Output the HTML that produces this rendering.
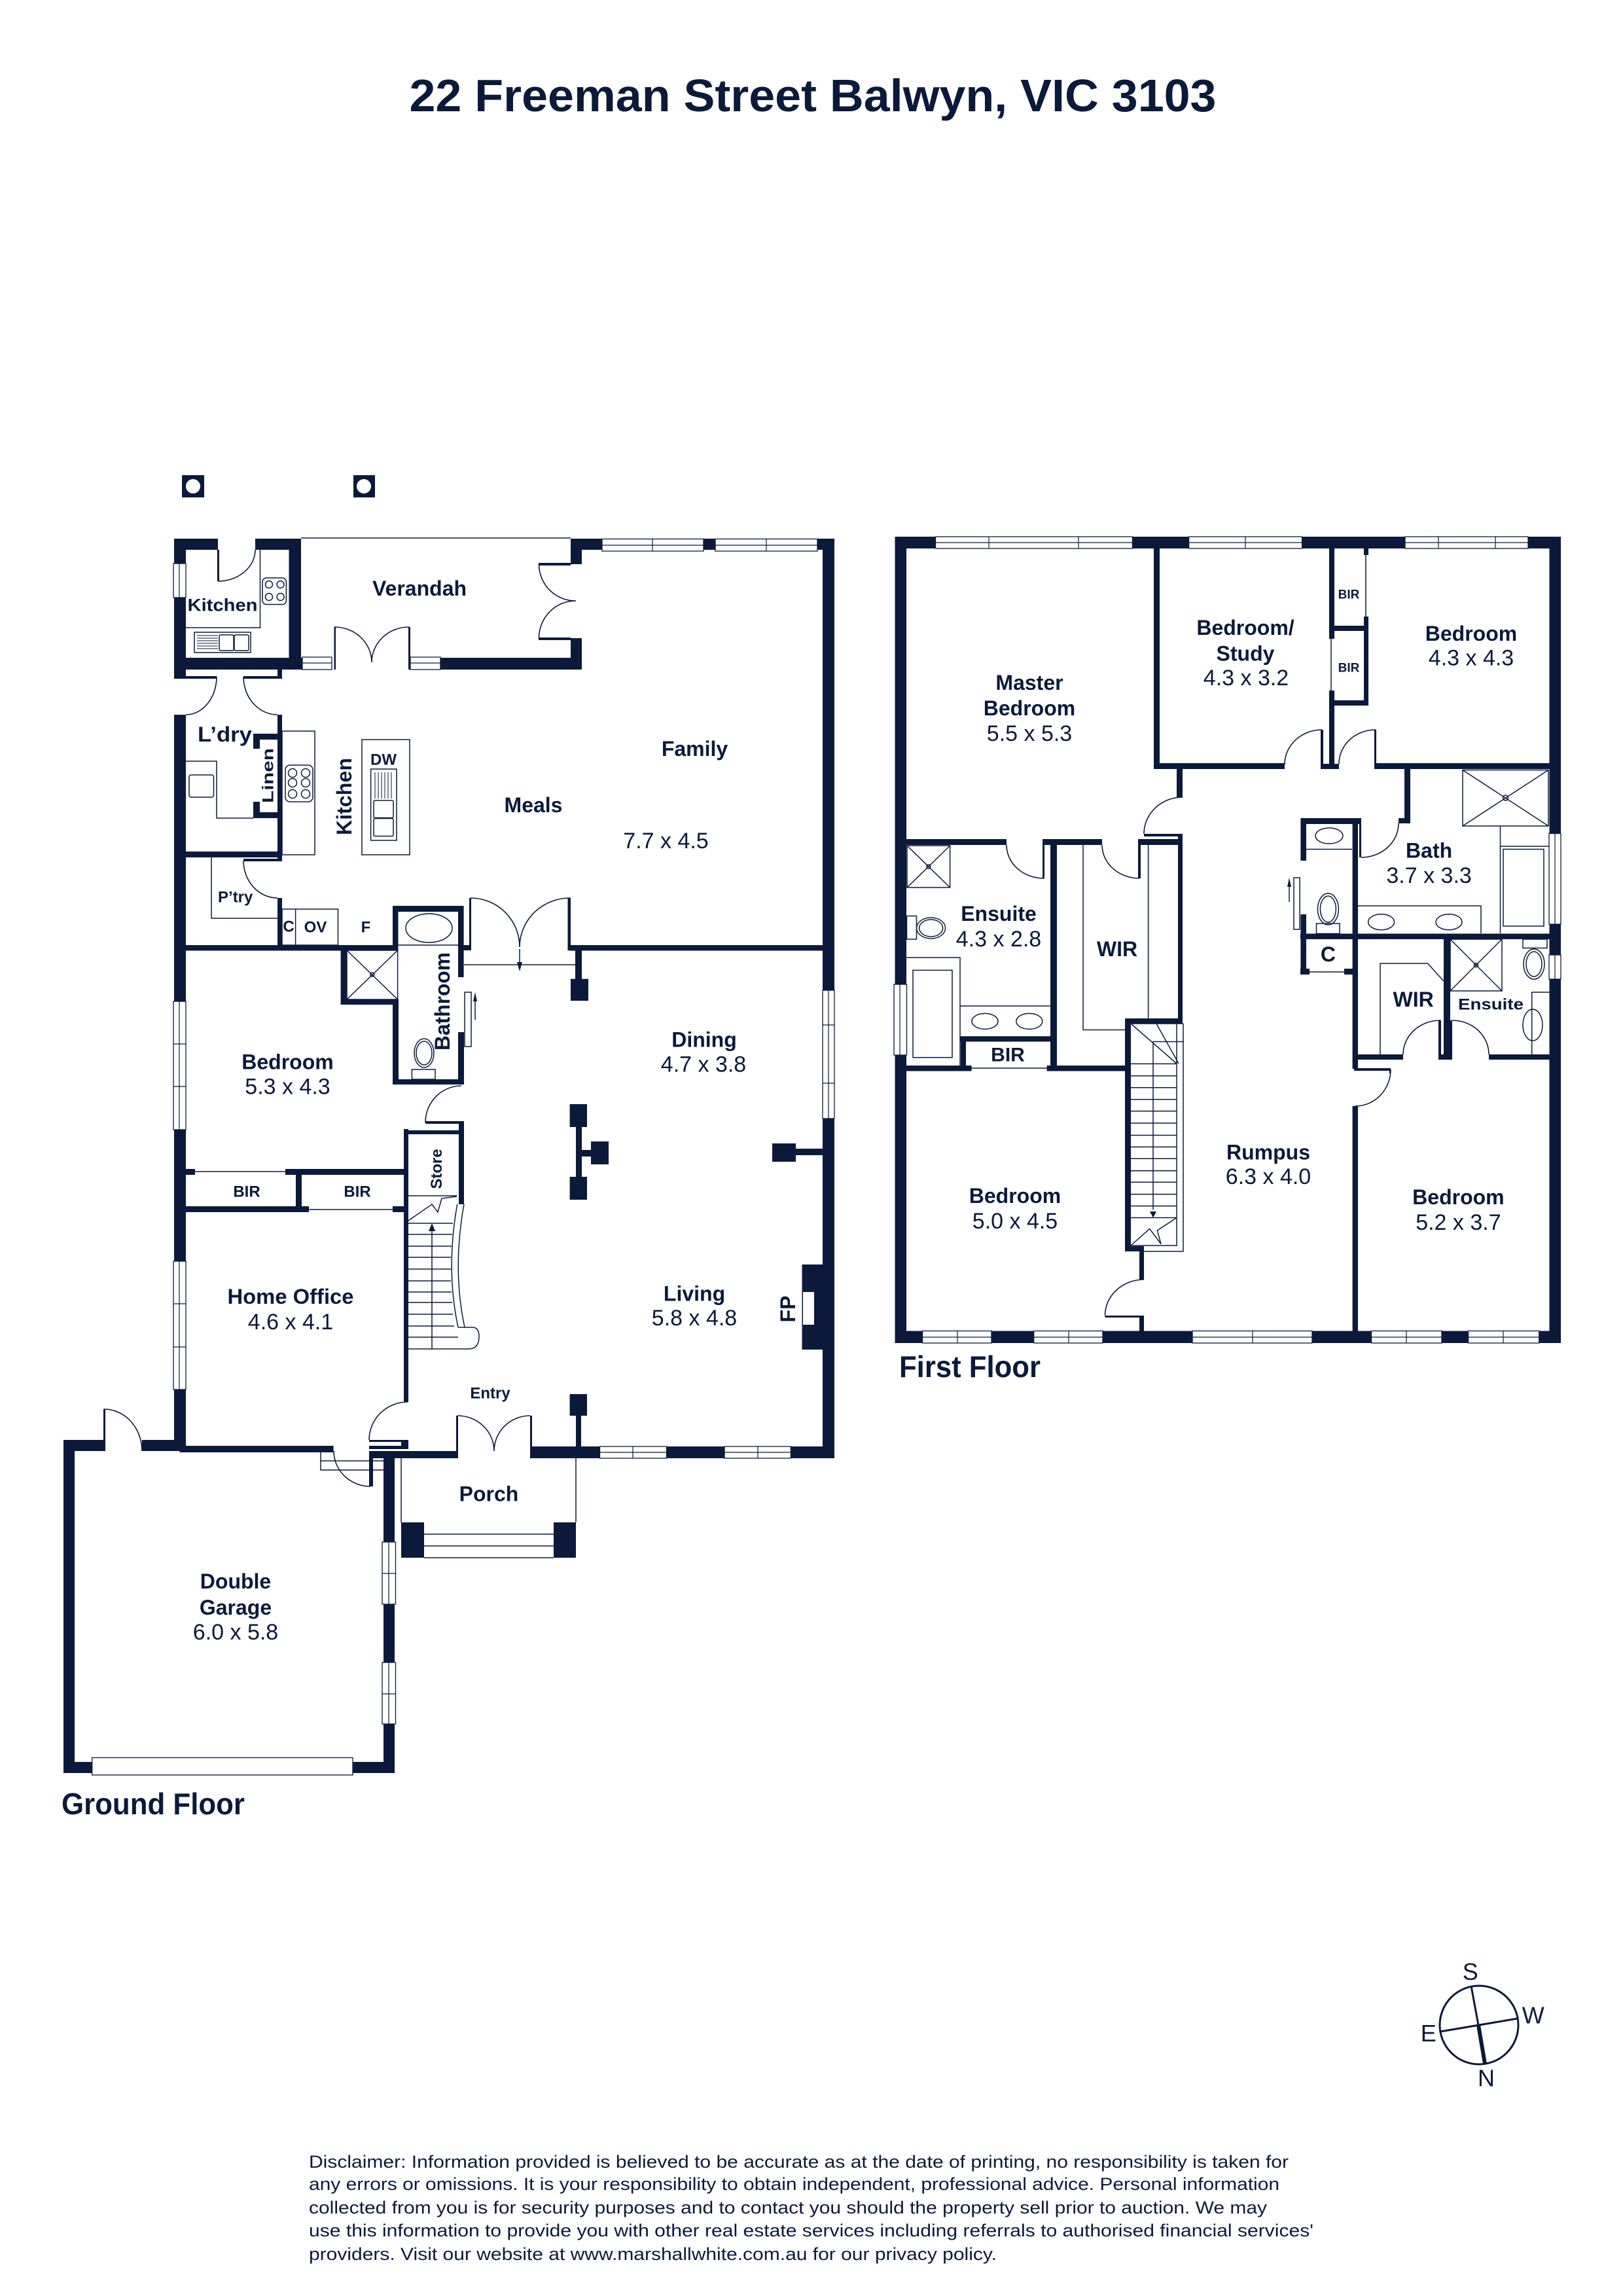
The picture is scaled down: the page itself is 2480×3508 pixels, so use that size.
<!DOCTYPE html>
<html><head><meta charset="utf-8"><title>22 Freeman Street Balwyn</title>
<style>
html,body{margin:0;padding:0;background:#fff}
svg{display:block}
text{font-family:"Liberation Sans",sans-serif;fill:#0b1a3b;text-anchor:middle;dominant-baseline:central}
.l{font-size:32px;font-weight:bold}
.d{font-size:34px}
.s{font-size:24px;font-weight:bold}
.w{fill:#fff;stroke:#0b1a3b;stroke-width:1.3}
.t{fill:none;stroke:#0b1a3b;stroke-width:1.5}
.a{fill:none;stroke:#0b1a3b;stroke-width:1.6}
.f{fill:#0b1a3b}
.disc{font-size:27px;text-anchor:start}
</style></head><body>
<svg xmlns="http://www.w3.org/2000/svg" width="2480" height="3508" viewBox="0 0 2480 3508">
<rect width="2480" height="3508" fill="#fff"/>
<text x="1242" y="146" style="font-size:70px;font-weight:bold" textLength="1233" lengthAdjust="spacingAndGlyphs">22 Freeman Street Balwyn, VIC 3103</text>

<!-- pillars -->
<path class="f" d="M278 726H312V760H278zM540 726H573V760H540z"/>
<circle cx="295" cy="743" r="11" fill="#fff"/><circle cx="556" cy="743" r="11" fill="#fff"/>

<!-- walls -->
<path class="f" d="
M266 823H333V840H266zM390 823H460V840H390zM266 823H284V1034H266zM441.5 823H460V1023H441.5zM266 1005H462V1023H266zM424 1023H431V1037H424zM266 1033H331V1037H266zM372 1033H431V1037H372z
M673 1005H889V1023H673zM872 823H889V862H872zM872 975H889V1023H872zM872 823H920V840H872zM1075 823H1093V840H1075zM1249 823H1275V840H1249zM1257 823H1275V1513H1257zM1257 1709H1275V2228H1257z
M823 860H872V864H823zM823 974H872V978H823z
M266 1092H284V2217H266zM424 1092H431V1315H424zM284 1301H431V1310H284zM372 1312H431V1316H372zM424 1372H431V1452H424zM387 1121H431V1130H387zM387 1121H397V1144H387zM387 1225H397V1250H387zM387 1241H431V1250H387z
M266 1444H602V1452.5H266zM520.6 1452H530V1535H520.6zM521 1527H609V1535H521zM600 1527H609V1657H600zM600 1649H709V1657H600zM600 1384H708.6V1393H600zM600 1384H608.5V1452H600zM700 1384H708.6V1493H700zM700 1577H709V1657H700zM708 1444H720V1452H708zM717 1372H720V1452H717zM867.5 1372H872V1452H867.5zM869 1444H1258V1452.5H869z
M879 1452H889V1496H879zM872 1495.6H899V1529H872zM870.6 1687H897V1722H870.6zM870.6 1798H897V1833H870.6zM880 1722H889V1798H880zM889 1757H905V1767H889zM903 1744H930V1779H903zM1180 1747H1216V1775H1180zM1216 1755H1258V1765H1216zM1225.5 1932H1259V2062H1225.5z
M650 1713H709V1717H650zM701 1715H709V1840H701zM617 1727H709V1733H617zM617 1725H624V2142H617zM436 1786H617V1795H436zM284 1786H298V1795H284zM452 1795H461V1852H452zM284 1843H472V1852H284zM600 1843H617V1852H600z
M274.5 2209H509.6V2219H274.5zM97 2200H159V2217H97zM217 2200H284V2217H217zM97 2200H114V2709H97zM97 2692H603V2709H97zM586 2217H603V2709H586zM564 2209H617V2214H564zM564 2217H699V2228H564zM564 2200H617V2203H564zM613 2200H624V2214H613zM564 2217H570V2271H564z
M813 2210H1275V2228H813zM870.6 2130H897V2163H870.6zM880 2163H888V2210H880zM613 2326H648V2380H613zM846 2326H880V2380H846zM158 2153H161V2217H158zM697 2163H700V2228H697zM810 2163H813V2228H810zM510.5 958H513V1023H510.5zM624 958H627V1023H624zM332 840H335V888H332z
M1367.5 820H2385V838H1367.5zM1367.5 820H1385V2052H1367.5zM2367.5 820H2385V2052H2367.5zM1367.5 2033.5H2385V2052H1367.5z
M1763 838H1772V1175H1763zM1763 1166H1963V1175H1763zM2018 1115H2022V1175H2018zM2018 1167H2046V1175H2018zM2031 838H2039V976H2031zM2031 1055H2039V1175H2031zM2031 956H2091V964H2031zM2084 942H2091V1078H2084zM2084 838H2091V848H2084zM2031 1070H2091V1078H2031zM2100 1115H2103V1175H2100zM2100 1166H2368V1175H2100z
M1798 1175H1807V1218H1798zM1748 1274H1807V1278H1748zM1800 1274H1807V1556H1800zM1385 1282H1538V1291H1385zM1593 1282H1684V1291H1593zM1593 1282H1596V1342H1593zM1605 1291H1615V1636H1605zM1739 1282H1800V1291H1739zM1739 1291H1743V1342H1739z
M1719 1556H1728V1912H1719zM1719 1556H1807V1564H1719zM1719 1904H1748V1912H1719zM1741 1904H1748V1955H1741zM1688.5 2010H1748V2013H1688.5zM1741 2010H1748V2035H1741z
M1467 1584H1615V1591.5H1467zM1468 1584H1476V1636H1468zM1385 1628H1484.6V1636.5H1385zM1599.6 1628H1719V1636.5H1599.6z
M1987.4 1250H2080V1259H1987.4zM1987.4 1250H1996V1315H1987.4zM1987.4 1397H1996V1489H1987.4zM2066.6 1250H2075V1633H2066.6zM2066.6 1690H2075V2035H2066.6zM2146 1175H2155V1258H2146zM2137 1250H2155V1258H2137zM2077 1250H2080V1310H2077zM1987 1426.5H2368V1435H1987zM1987 1480H2001V1489H1987zM2054 1480H2075V1489H2054z
M2206 1434H2216V1618H2206zM2074 1611H2144V1619H2074zM2198 1559H2202V1618H2198zM2216 1559H2219V1618H2216zM2198 1611H2219V1619H2198zM2275 1611H2368V1619H2275zM2069 1632H2125V1636H2069zM2123 1632H2125V1640H2123z"/>
<rect x="1227" y="1974" width="17" height="50" fill="#fff"/>

<!-- windows -->
<g class="w">
<rect x="920" y="823.5" width="155" height="18.5"/><rect x="1093" y="823.5" width="156" height="18.5"/>
<rect x="265" y="861" width="19" height="52"/>
<rect x="462" y="1004" width="45" height="19"/><rect x="627" y="1004" width="46" height="19"/>
<rect x="1257" y="1513" width="18" height="196"/>
<rect x="265" y="1530" width="19" height="196"/><rect x="265" y="1927" width="19" height="196"/>
<rect x="916.5" y="2210" width="102" height="18"/><rect x="1107" y="2210" width="101.4" height="18"/>
<rect x="584" y="2356" width="20.5" height="95"/><rect x="584" y="2540" width="20.5" height="94"/>
<rect x="140.7" y="2685.5" width="398.3" height="26.5"/>
<rect x="1429.5" y="820" width="301" height="18"/><rect x="1816.6" y="820" width="173" height="18"/><rect x="2147" y="820" width="188" height="18"/>
<rect x="1409.6" y="2033.5" width="105.4" height="18.5"/><rect x="1579.7" y="2033.5" width="105.3" height="18.5"/><rect x="1822" y="2033.5" width="183" height="18.5"/><rect x="2095.5" y="2033.5" width="107.5" height="18.5"/><rect x="2243.6" y="2033.5" width="108.1" height="18.5"/>
<rect x="1366" y="1504" width="19.5" height="108"/>
<rect x="2367" y="1273.5" width="18" height="138.5"/><rect x="2367" y="1459" width="18" height="37"/>
</g>
<path class="t" style="stroke-width:1.2" d="M920 833H1075M997 823V842M1093 833H1249M1171 823V842M274 861V913M462 1013H507M627 1013H673M1266 1513V1709M1257 1566H1275M1257 1655H1275M274 1530V1726M265 1595H284M265 1660H284M274 1927V2123M265 1992H284M265 2058H284M916 2219H1018M967 2210V2228M1107 2219H1208M1158 2210V2228M594 2356V2451M584 2404H604M594 2540V2634M584 2588H604
M1430 829H1730M1511 820V838M1648 820V838M1817 829H1989M1903 820V838M2147 829H2335M2198 820V838M2285 820V838
M1410 2043H1515M1463 2034V2052M1580 2043H1685M1633 2034V2052M1822 2043H2005M1914 2034V2052M2096 2043H2203M2149 2034V2052M2244 2043H2352M2297 2034V2052M1375 1504V1612M2376 1274V1412M2376 1459V1496"/>

<!-- doors arcs -->
<path class="a" d="M333 888A57 48 0 0 0 390 840M823.5 862A56 56 0 0 0 880 918M823.5 975.5A56 57 0 0 1 880 918M511 958A57 54 0 0 1 568 1012M625 958A57 54 0 0 0 568 1012
M331 1034A47 58 0 0 1 284 1092M372 1034A52 58 0 0 0 424 1092M372 1315A52 57 0 0 0 424 1372M719 1372A75 75 0 0 1 794 1447M871 1372A77 75 0 0 0 794 1447M705 1659A55 56 0 0 0 650 1715M623 2142A59 58 0 0 0 564 2200M510 2217A56 54 0 0 0 566 2271M159 2153A58 64 0 0 1 217 2217M699 2163A56 54 0 0 1 755 2217M810 2163A55 54 0 0 0 755 2217
M1963 1168A57 53 0 0 1 2020 1115M2046 1167A56 52 0 0 1 2102 1115M1807 1218A59 56 0 0 0 1748 1274M1538 1291A57 51 0 0 0 1595 1342M1684 1291A57 51 0 0 0 1741 1342M1748 1955A59.5 55 0 0 0 1688.5 2010M2137 1258A57 52 0 0 1 2080 1310M2144 1611A57 52 0 0 1 2201 1559M2219 1559A56 52 0 0 1 2275 1611M2125 1634A54 56 0 0 1 2071 1690"/>

<!-- thin lines and fixtures -->
<path class="t" d="M460 822H872M397.5 840V959H284M298 1790H436M472 1848H600M284 1163H331V1250H387M323 1310V1403H424M608 1444H700M709 1474H879
M2087 848V942M2034 976V1055M1655 1291V1573.5H1720M1754.6 1291V1556M2109 1611V1472H2181.6L2206 1499M2075 1384H2263V1426M2292.5 1426V1262M2292.5 1293H2367M1996 1297.5H2066M1484 1632H1600M2001 1485H2054
M1467 1636V1463H1385M1467 1537H1606M1467 1584H1606M2340.7 1611V1516H2368M613 2228V2326M880 2228V2326M648 2344H846M648 2362H846M648 2380H846M490 2217V2246H586M490 2232H586"/>
<rect class="t" x="431" y="1117" width="50" height="189"/>
<rect class="t" x="553" y="1130" width="73" height="176"/>
<rect class="t" x="566.6" y="1175" width="39.4" height="109"/>
<rect class="t" x="571" y="1223" width="30" height="26.5" rx="2"/><rect class="t" x="571" y="1250.5" width="30" height="27" rx="2"/>
<path class="t" style="stroke-width:1" d="M573 1180V1220M578 1180V1220M583 1180V1220M588 1180V1220M593 1180V1220M598 1180V1220"/>
<rect class="t" x="436" y="1169" width="42" height="56" rx="7"/>
<g class="t"><circle cx="447" cy="1181" r="6.5"/><circle cx="467" cy="1181" r="6.5"/><circle cx="447" cy="1196" r="6.5"/><circle cx="467" cy="1196" r="6.5"/><circle cx="447" cy="1213" r="6.5"/><circle cx="467" cy="1213" r="6.5"/></g>
<rect class="t" x="289" y="1184" width="37.5" height="34" rx="3"/>
<rect class="t" x="401" y="883" width="36.4" height="40.5" rx="6"/>
<g class="t"><circle cx="411" cy="893" r="5.5"/><circle cx="428.6" cy="893" r="5.5"/><circle cx="411" cy="912" r="5.5"/><circle cx="428.6" cy="912" r="5.5"/></g>
<rect class="t" x="297" y="966" width="86" height="31"/>
<rect class="t" x="335" y="970" width="22" height="24" rx="2"/><rect class="t" x="358" y="970" width="22" height="24" rx="2"/>
<path class="t" style="stroke-width:1" d="M301 971H333M301 975H333M301 979H333M301 983H333M301 987H333M301 991H333"/>
<rect class="t" x="431" y="1389" width="85.5" height="55"/><path class="t" d="M451.6 1389V1444"/>
<ellipse class="t" cx="655.5" cy="1418" rx="35.5" ry="22"/>
<rect class="t" x="530" y="1452" width="77.6" height="75"/><path class="t" d="M530 1452L607.6 1527M607.6 1452L530 1527"/><circle class="t" cx="568.8" cy="1489" r="3"/>
<ellipse class="t" cx="648" cy="1609" rx="15" ry="22"/><ellipse class="t" cx="648" cy="1609" rx="12" ry="18"/><rect class="t" x="629.4" y="1634" width="35.6" height="15"/>
<rect class="t" x="710" y="1516" width="10" height="83"/>
<path class="t" d="M726 1558V1520"/><path class="f" d="M726 1516L723 1530H729zM794 1484L790 1470H798z"/>
<path class="t" d="M794 1450V1470"/>

<!-- ground stairs -->
<path class="t" d="M624 1827H698M624 1869H692M624 1886H691M624 1904H690M624 1921H689M624 1939H689M624 1957H689M624 1974H690M624 1990H691M624 2008H692M624 2026H694M624 2043H700M660 1880V2061M624 1865L660 1840L669 1852L675 1831L698 1828
M698.7 1840Q681 1939 700 2028M709 1840Q691 1939 710 2028M700 2028H722Q732 2028 732 2042Q732 2061 716 2061H624"/>
<path class="f" d="M660 1869L655 1881H665z"/>

<!-- first floor fixtures -->
<rect class="t" x="1386" y="1292" width="65.6" height="64"/><path class="t" d="M1386 1292L1451.6 1356M1451.6 1292L1386 1356"/><circle class="t" cx="1418.8" cy="1324" r="3"/>
<rect class="t" x="1385.5" y="1399.5" width="15" height="35.5"/><ellipse class="t" cx="1422.6" cy="1418" rx="22" ry="16"/><ellipse class="t" cx="1422.6" cy="1418" rx="18" ry="13"/>
<rect class="t" x="1395" y="1482.4" width="60" height="133.3"/>
<ellipse class="t" cx="1505" cy="1560.4" rx="20" ry="12"/><ellipse class="t" cx="1572.8" cy="1560.4" rx="20" ry="12"/>
<rect class="t" x="2235" y="1176.5" width="131" height="85.5"/><path class="t" d="M2235 1176.5L2366 1262M2366 1176.5L2235 1262"/><circle class="t" cx="2300.5" cy="1219" r="4"/>
<rect class="t" x="2297" y="1297.5" width="62" height="117.5"/>
<ellipse class="t" cx="2110.6" cy="1408.7" rx="20" ry="12"/><ellipse class="t" cx="2214" cy="1408.7" rx="20" ry="12"/>
<ellipse class="t" cx="2031" cy="1277" rx="21" ry="12"/>
<ellipse class="t" cx="2029.4" cy="1389" rx="16" ry="24"/><ellipse class="t" cx="2029.4" cy="1389" rx="12" ry="20"/><rect class="t" x="2011.5" y="1411" width="35.5" height="15.5"/>
<rect class="t" x="1977" y="1341" width="9" height="79"/><path class="t" d="M1970 1378V1346"/><path class="f" d="M1970 1341L1967 1355H1973z"/>
<rect class="t" x="2216" y="1435" width="79" height="79"/><path class="t" d="M2216 1435L2295 1514M2295 1435L2216 1514"/><circle class="t" cx="2255.5" cy="1474.5" r="3"/>
<rect class="t" x="2327" y="1435" width="37" height="13.5"/><ellipse class="t" cx="2344" cy="1473" rx="16" ry="23"/><ellipse class="t" cx="2344" cy="1473" rx="12" ry="19"/>
<ellipse class="t" cx="2342" cy="1566" rx="15" ry="24"/>

<!-- first stairs -->
<path class="t" d="M1798 1564V1904M1808 1564V1912H1748M1728 1564H1808M1762 1591.5H1808M1728 1625.4H1798M1728 1643.8H1798M1728 1661.8H1798M1728 1679.7H1798M1728 1697.6H1798M1728 1716H1798M1728 1734.5H1798M1728 1752.4H1798M1728 1770.3H1798M1728 1788.7H1798M1728 1806.2H1798M1728 1824.6H1798M1728 1842.6H1798M1728 1860.5H1798M1728 1903H1798M1762 1591.5V1848M1728 1564L1798 1625M1767 1564L1801 1625M1728 1903L1756.7 1877.5L1774 1900.7L1768.4 1880L1798 1860.5"/>
<path class="f" d="M1762 1860.5L1757 1851H1767z"/>

<!-- labels ground -->
<text class="l" x="641" y="899">Verandah</text>
<text class="s" x="340" y="924.5" style="font-size:27px" textLength="107" lengthAdjust="spacingAndGlyphs">Kitchen</text>
<text class="l" x="343.5" y="1122" textLength="83" lengthAdjust="spacingAndGlyphs">L’dry</text>
<text class="s" transform="translate(410 1185) rotate(-90)" textLength="84" lengthAdjust="spacingAndGlyphs">Linen</text>
<text class="l" transform="translate(526 1217) rotate(-90)" textLength="118" lengthAdjust="spacingAndGlyphs">Kitchen</text>
<text class="s" x="586" y="1161">DW</text>
<text class="l" x="815" y="1230">Meals</text>
<text class="l" x="1061.5" y="1144">Family</text>
<text class="d" x="1017.5" y="1285">7.7 x 4.5</text>
<text class="s" x="359.7" y="1371">P’try</text>
<text class="s" x="441" y="1416">C</text>
<text class="s" x="482" y="1417">OV</text>
<text class="s" x="559" y="1417">F</text>
<text class="l" transform="translate(676 1530) rotate(-90)" textLength="150" lengthAdjust="spacingAndGlyphs">Bathroom</text>
<text class="l" x="439.5" y="1622.5">Bedroom</text><text class="d" x="439.5" y="1660.6">5.3 x 4.3</text>
<text class="s" x="377" y="1821">BIR</text><text class="s" x="546" y="1821">BIR</text>
<text class="s" transform="translate(667.5 1786) rotate(-90)">Store</text>
<text class="l" x="444" y="1981" textLength="193" lengthAdjust="spacingAndGlyphs">Home Office</text><text class="d" x="444" y="2020">4.6 x 4.1</text>
<text class="l" x="1076" y="1588.5">Dining</text><text class="d" x="1075" y="1626.6">4.7 x 3.8</text>
<text class="l" x="1061" y="1976.5">Living</text><text class="d" x="1061" y="2014">5.8 x 4.8</text>
<text class="l" transform="translate(1204 2000) rotate(-90)">FP</text>
<text class="s" x="749" y="2129">Entry</text>
<text class="l" x="747" y="2282.5">Porch</text>
<text class="l" x="360" y="2416">Double</text><text class="l" x="360" y="2456">Garage</text><text class="d" x="360" y="2494">6.0 x 5.8</text>
<text x="234" y="2756" style="font-size:46px;font-weight:bold" textLength="280" lengthAdjust="spacingAndGlyphs">Ground Floor</text>

<!-- labels first -->
<text class="l" x="1573" y="1043">Master</text><text class="l" x="1573" y="1082">Bedroom</text><text class="d" x="1573" y="1121">5.5 x 5.3</text>
<text class="l" x="1903" y="959">Bedroom/</text><text class="l" x="1903" y="998.5">Study</text><text class="d" x="1904" y="1036">4.3 x 3.2</text>
<text class="l" x="2248" y="968">Bedroom</text><text class="d" x="2248" y="1005.6">4.3 x 4.3</text>
<text class="s" x="2061" y="909" style="font-size:19px">BIR</text><text class="s" x="2061" y="1021" style="font-size:19px">BIR</text>
<text class="l" x="1526" y="1396">Ensuite</text><text class="d" x="1526" y="1435">4.3 x 2.8</text>
<text class="l" x="1707" y="1450">WIR</text>
<text class="s" x="1540" y="1612" style="font-size:30px">BIR</text>
<text class="l" x="2183.6" y="1299.5">Bath</text><text class="d" x="2183.6" y="1338">3.7 x 3.3</text>
<text class="l" x="2029.4" y="1458">C</text>
<text class="l" x="2159.6" y="1527">WIR</text>
<text class="s" x="2278" y="1535" textLength="100" lengthAdjust="spacingAndGlyphs">Ensuite</text>
<text class="l" x="1938" y="1760.6">Rumpus</text><text class="d" x="1938" y="1798">6.3 x 4.0</text>
<text class="l" x="1551" y="1827">Bedroom</text><text class="d" x="1551" y="1866">5.0 x 4.5</text>
<text class="l" x="2228.4" y="1829">Bedroom</text><text class="d" x="2228.4" y="1868">5.2 x 3.7</text>
<text x="1482" y="2088" style="font-size:46px;font-weight:bold" textLength="216" lengthAdjust="spacingAndGlyphs">First Floor</text>

<!-- compass -->
<circle cx="2260" cy="3094" r="60" fill="none" stroke="#0b1a3b" stroke-width="3"/>
<path fill="none" stroke="#0b1a3b" stroke-width="3" d="M2248.3 3036L2259 3094M2201 3104L2319 3084"/>
<path fill="none" stroke="#0b1a3b" stroke-width="6" d="M2259 3094L2269 3153"/>
<text x="2246.7" y="3012.7" style="font-size:36px">S</text>
<text x="2342.7" y="3079" style="font-size:36px">W</text>
<text x="2182.7" y="3106.7" style="font-size:36px">E</text>
<text x="2271" y="3175" style="font-size:36px">N</text>

<!-- disclaimer -->
<text class="disc" x="472" y="3303" textLength="1497" lengthAdjust="spacingAndGlyphs">Disclaimer: Information provided is believed to be accurate as at the date of printing, no responsibility is taken for</text>
<text class="disc" x="472" y="3337" textLength="1483" lengthAdjust="spacingAndGlyphs">any errors or omissions. It is your responsibility to obtain independent, professional advice. Personal information</text>
<text class="disc" x="472" y="3373" textLength="1464" lengthAdjust="spacingAndGlyphs">collected from you is for security purposes and to contact you should the property sell prior to auction. We may</text>
<text class="disc" x="472" y="3408" textLength="1535" lengthAdjust="spacingAndGlyphs">use this information to provide you with other real estate services including referrals to authorised financial services'</text>
<text class="disc" x="472" y="3444" textLength="1051" lengthAdjust="spacingAndGlyphs">providers. Visit our website at www.marshallwhite.com.au for our privacy policy.</text>
</svg>
</body></html>
